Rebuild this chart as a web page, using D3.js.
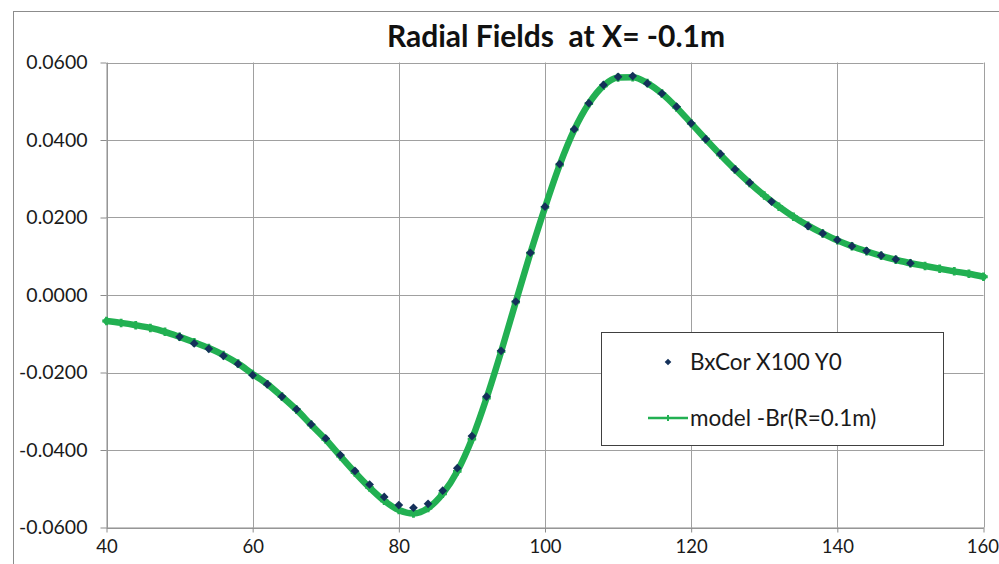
<!DOCTYPE html>
<html>
<head>
<meta charset="utf-8">
<script src="https://cdn.jsdelivr.net/npm/d3@7"></script>
<style>
  html, body { margin: 0; padding: 0; background: #fff; }
  svg { display: block; }
</style>
</head>
<body>
<svg id="chart" width="999" height="564"></svg>
<script>
// Measured BxCor samples (position in cm, field value)
const measX = [50, 52, 54, 56, 58, 60, 62, 64, 66, 68, 70, 72, 74, 76, 78, 80, 82, 84, 86, 88, 90,
               92, 94, 96, 98, 100, 102, 104, 106, 108, 110, 112, 114, 116, 118, 120, 122, 124, 126, 128,
               131, 136, 138, 140, 142, 144, 146, 148, 150];
const measY = [-0.0108, -0.0125, -0.0139, -0.0157, -0.0178, -0.0207, -0.0230, -0.0262, -0.0295, -0.0334,
               -0.0370, -0.0413, -0.0454, -0.0489, -0.0521, -0.0542, -0.0549, -0.0539, -0.0505, -0.0447,
               -0.0364, -0.0262, -0.0144, -0.0017, 0.0109, 0.0228, 0.0338, 0.0428, 0.0495, 0.0542,
               0.0563, 0.0565, 0.0546, 0.0520, 0.0486, 0.0443, 0.0402, 0.0364, 0.0324, 0.0290,
               0.0241, 0.0178, 0.0159, 0.0142, 0.0126, 0.0114, 0.0102, 0.0092, 0.0082];

// Model -Br(R=0.1m)
const modelX = [40, 42, 44, 46, 48, 50, 52, 54, 56, 58, 60, 62, 64, 66, 68, 70, 72, 74, 76, 78, 80,
                82, 84, 86, 88, 90, 92, 94, 96, 98, 100, 102, 104, 106, 108, 110, 112, 114, 116, 118, 120,
                122, 124, 126, 128, 130, 132, 134, 136, 138, 140, 142, 144, 146, 148, 150, 152, 154, 156, 158, 160];
const modelY = [-0.0067, -0.0072, -0.0078, -0.0085, -0.0095, -0.0108, -0.0122, -0.0137, -0.0155, -0.0177,
                -0.0204, -0.0230, -0.0262, -0.0296, -0.0335, -0.0373, -0.0416, -0.0458, -0.0497, -0.0531,
                -0.0555, -0.0564, -0.0550, -0.0513, -0.0455, -0.0372, -0.0266, -0.0146, -0.0018, 0.0108,
                0.0226, 0.0335, 0.0426, 0.0494, 0.0540, 0.0561, 0.0562, 0.0547, 0.0520, 0.0484,
                0.0443, 0.0402, 0.0362, 0.0324, 0.0289, 0.0257, 0.0228, 0.0202, 0.0179, 0.0159,
                0.0141, 0.0126, 0.0113, 0.0101, 0.0091, 0.0082, 0.0075, 0.0068, 0.0061, 0.0055, 0.0047];

const xTicks = [40, 60, 80, 100, 120, 140, 160];
const yTicks = [-0.06, -0.04, -0.02, 0, 0.02, 0.04, 0.06];

const titleText = "Radial Fields  at X= -0.1m";
const seriesNames = ["BxCor X100 Y0", "model -Br(R=0.1m)"];

const GREEN = "#22b052";
const NAVY = "#14305a";
const GRID = "#a0a0a0";
const FONT = "Lato, 'Open Sans', sans-serif";

const svg = d3.select("#chart");

// outer chart frame
svg.append("rect")
  .attr("x", 13.5).attr("y", 11.5)
  .attr("width", 1000).attr("height", 600)
  .attr("fill", "#fff")
  .attr("stroke", "#8c8c8c").attr("stroke-width", 1);

const x = d3.scaleLinear().domain([40, 160]).range([106.5, 983.5]);
const y = d3.scaleLinear().domain([-0.06, 0.06]).range([527.5, 62.5]);

// gridlines
const grid = svg.append("g");
grid.selectAll("line.h").data(yTicks).join("line")
  .attr("x1", x(40)).attr("x2", x(160))
  .attr("y1", d => Math.round(y(d)) + 0.5).attr("y2", d => Math.round(y(d)) + 0.5)
  .attr("stroke", GRID).attr("stroke-width", 1);
grid.selectAll("line.v").data(xTicks).join("line")
  .attr("y1", y(0.06)).attr("y2", y(-0.06))
  .attr("x1", d => Math.round(x(d)) + 0.5).attr("x2", d => Math.round(x(d)) + 0.5)
  .attr("stroke", GRID).attr("stroke-width", 1);

// axes (ASCII hyphen for negative labels)
const fmt4 = d3.format(".4f");
const yAxis = d3.axisLeft(y).tickValues(yTicks)
  .tickFormat(d => fmt4(d).replace("\u2212", "-"))
  .tickSize(6).tickSizeOuter(0).tickPadding(13);
const gy = svg.append("g").attr("transform", `translate(${x(40)},0)`).call(yAxis);

const xAxis = d3.axisBottom(x).tickValues(xTicks).tickFormat(d3.format("d"))
  .tickSize(5).tickSizeOuter(0).tickPadding(7);
const gx = svg.append("g").attr("transform", `translate(0,${y(-0.06)})`).call(xAxis);

[gx, gy].forEach(g => {
  g.select(".domain").attr("stroke", "#8c8c8c");
  g.selectAll(".tick line").attr("stroke", "#8c8c8c");
  g.selectAll(".tick text").attr("fill", "#1a1a1a")
    .style("font-family", FONT).style("font-size", "19.5px");
});
// the right-most label sits against the page edge
gx.selectAll(".tick text").style("font-size", "18.5px")
  .filter(d => d === 160).attr("text-anchor", "end").attr("x", 15);

// model curve
const model = modelX.map((v, i) => [v, modelY[i]]);
const line = d3.line().x(d => x(d[0])).y(d => y(d[1])).curve(d3.curveMonotoneX);
svg.append("path").datum(model)
  .attr("d", line)
  .attr("fill", "none").attr("stroke", GREEN)
  .attr("stroke-width", 6.5).attr("stroke-linejoin", "round").attr("stroke-linecap", "round");

// model point crosses
svg.append("g").selectAll("path").data(model).join("path")
  .attr("transform", d => `translate(${x(d[0])},${y(d[1])})`)
  .attr("d", d3.symbol(d3.symbolCross, 40))
  .attr("fill", GREEN);

// measured markers (square turned 45°)
const meas = measX.map((v, i) => [v, measY[i]]);
svg.append("g").selectAll("path").data(meas).join("path")
  .attr("transform", d => `translate(${x(d[0])},${y(d[1])}) rotate(45)`)
  .attr("d", d3.symbol(d3.symbolSquare, 38))
  .attr("fill", NAVY);

// title
svg.append("text")
  .attr("x", 556).attr("y", 47)
  .attr("text-anchor", "middle")
  .style("white-space", "pre")
  .style("font-family", FONT).style("font-weight", "bold").style("font-size", "30px")
  .attr("fill", "#111")
  .text(titleText);

// legend
const lg = svg.append("g");
lg.append("rect")
  .attr("x", 601.5).attr("y", 332.5).attr("width", 342).attr("height", 113)
  .attr("fill", "#fff").attr("stroke", "#404040").attr("stroke-width", 1);
lg.append("path")
  .attr("transform", "translate(668,362) rotate(45)")
  .attr("d", d3.symbol(d3.symbolSquare, 22))
  .attr("fill", NAVY);
lg.append("line")
  .attr("x1", 648).attr("x2", 688).attr("y1", 418).attr("y2", 418)
  .attr("stroke", GREEN).attr("stroke-width", 2.5);
lg.append("path")
  .attr("transform", "translate(668,418)")
  .attr("d", d3.symbol(d3.symbolCross, 20))
  .attr("fill", GREEN);
lg.selectAll("text").data(seriesNames).join("text")
  .attr("x", 690).attr("y", (d, i) => 362 + i * 56)
  .attr("dy", "0.35em")
  .style("font-family", FONT).style("font-size", "22.5px")
  .attr("fill", "#1a1a1a")
  .text(d => d);
</script>
</body>
</html>
